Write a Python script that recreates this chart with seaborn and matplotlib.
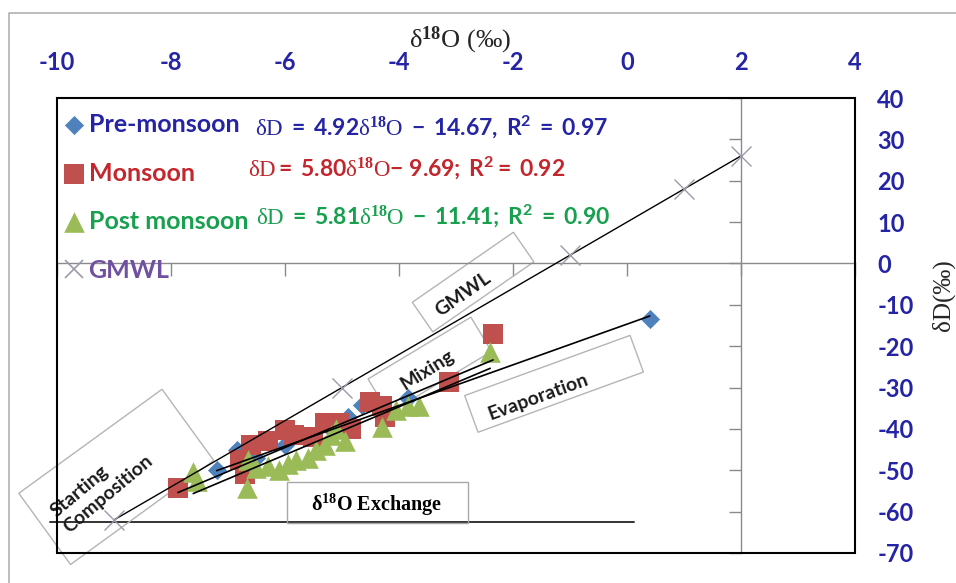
import numpy as np
import pandas as pd
import matplotlib
matplotlib.use("Agg")
import matplotlib.pyplot as plt
import matplotlib.transforms as mtransforms
from matplotlib.patches import Rectangle
from matplotlib.lines import Line2D
import seaborn as sns

# ---------------- data ----------------
pre_x = [0.40, -3.84, -4.65, -4.90, -5.20, -5.50, -6.00, -6.50, -6.84, -7.20]
pre_y = [-13.4, -32.5, -34.2, -37.1, -40.0, -42.0, -44.0, -47.0, -45.1, -50.0]

mon_x = [-7.88, -6.79, -6.70, -6.60, -6.30, -6.00, -5.85, -5.50, -5.30, -5.05,
         -4.85, -4.50, -4.30, -4.25, -3.12, -2.35]
mon_y = [-54.3, -47.5, -51.0, -44.0, -43.0, -40.3, -41.5, -42.0, -38.5, -38.5,
         -40.0, -33.5, -34.5, -37.0, -28.6, -17.0]

post_x = [-7.61, -7.54, -6.67, -6.65, -6.50, -6.30, -6.10, -5.95, -5.80, -5.60,
          -5.45, -5.30, -5.20, -5.10, -4.95, -4.30, -4.05, -3.85, -3.65, -2.40]
post_y = [-50.4, -52.5, -54.3, -47.5, -49.5, -49.0, -50.0, -48.5, -47.5, -47.0,
          -45.0, -44.0, -41.5, -40.0, -43.0, -39.5, -35.5, -34.5, -34.5, -21.4]

gmwl_x = [-9.0, -5.0, -1.0, 1.0, 2.0]
gmwl_y = [-62.0, -30.0, 2.0, 18.0, 26.0]

# trend-line equations shown on the chart
pre_slope, pre_int = 4.92, -14.67
mon_slope, mon_int = 5.80, -9.69
post_slope, post_int = 5.81, -11.41

exch_x = [-10.12, 0.12]
exch_y = [-62.5, -62.5]

series_names = ["Pre-monsoon", "Monsoon", "Post monsoon", "GMWL"]
equations = [
    r"$\mathrm{\delta D}\mathsf{\ =\ 4.92}\mathrm{\delta^{\mathbf{18}}O}\mathsf{\ -\ 14.67,\ R^{2}\ =\ 0.97}$",
    r"$\mathrm{\delta D}\mathsf{=\ 5.80}\mathrm{\delta^{\mathbf{18}}O}\mathsf{-\ 9.69;\ R^{2}=\ 0.92}$",
    r"$\mathrm{\delta D}\mathsf{\ =\ 5.81}\mathrm{\delta^{\mathbf{18}}O}\mathsf{\ -\ 11.41;\ R^{2}\ =\ 0.90}$",
]
x_ticks = [-10, -8, -6, -4, -2, 0, 2, 4]
x_tick_labels = ["-10", "-8", "-6", "-4", "-2", "0", "2", "4"]
y_ticks = [-70, -60, -50, -40, -30, -20, -10, 0, 10, 20, 30, 40]
y_tick_labels = ["-70", "-60", "-50", "-40", "-30", "-20", "-10", "0", "10", "20", "30", "40"]

# ---------------- style ----------------
sns.set_style("white")
plt.rcParams['font.family'] = ['Lato', 'DejaVu Sans']
plt.rcParams['axes.unicode_minus'] = False
plt.rcParams['mathtext.fontset'] = 'custom'
plt.rcParams['mathtext.rm'] = 'Liberation Serif'
plt.rcParams['mathtext.it'] = 'Liberation Serif:italic'
plt.rcParams['mathtext.bf'] = 'Liberation Serif:bold'
plt.rcParams['mathtext.sf'] = 'Lato:bold'

c_pre, c_mon, c_post, c_gm = '#4F81BD', '#C0504D', '#9BBB59', '#9A9AAA'
t_pre, t_mon, t_post, t_gm = '#2424A4', '#C3262C', '#17A04E', '#7050A0'
tick_blue = '#2424A4'

W, H = 956, 583
fig = plt.figure(figsize=(W / 100, H / 100), dpi=100)
ax = fig.add_axes([57 / W, 1 - 553 / H, (855 - 57) / W, (553 - 98) / H])
ax.set_xlim(-10, 4)
ax.set_ylim(-70, 40)

# scatter series
sns.scatterplot(x=pre_x, y=pre_y, marker='D', s=95, color=c_pre, edgecolor=c_pre,
                linewidth=0, ax=ax, label=series_names[0], zorder=3)
sns.scatterplot(x=mon_x, y=mon_y, marker='s', s=210, color=c_mon, edgecolor=c_mon,
                linewidth=0, ax=ax, label=series_names[1], zorder=3)
sns.scatterplot(x=post_x, y=post_y, marker='^', s=220, color=c_post, edgecolor=c_post,
                linewidth=0, ax=ax, label=series_names[2], zorder=3)

# GMWL line with cross markers
sns.lineplot(x=gmwl_x, y=gmwl_y, color='black', lw=1.0, marker='x', markersize=14,
             markeredgecolor=c_gm, markeredgewidth=1.0, ax=ax, legend=False, zorder=4)

# trend lines
for xs, m, b in [(pre_x, pre_slope, pre_int), (mon_x, mon_slope, mon_int),
                 (post_x, post_slope, post_int)]:
    xr = np.array([min(xs), max(xs)])
    ax.plot(xr, m * xr + b, color='black', lw=1.2, zorder=4)

# exchange line
ax.plot(exch_x, exch_y, color='#333333', lw=1.4, clip_on=False, zorder=2)

# axes crossing at x=2, y=0
for s in ['top', 'right']:
    ax.spines[s].set_visible(False)
ax.spines['bottom'].set_position(('data', 0))
ax.spines['left'].set_position(('data', 2))
for s in ['bottom', 'left']:
    ax.spines[s].set_color('#8a8a8a')
    ax.spines[s].set_linewidth(1.0)
ax.set_xticks(x_ticks)
ax.set_yticks(y_ticks)
ax.tick_params(axis='both', direction='out', length=9, width=1, color='#8a8a8a',
               labelbottom=False, labelleft=False, bottom=True, left=True)
ax.grid(False)
ax.add_patch(Rectangle((0, 0), 1, 1, transform=ax.transAxes, fill=False,
                       ec='black', lw=1.5, clip_on=False, zorder=6))

# tick labels on top and right
secx = ax.secondary_xaxis('top')
secx.set_xticks(x_ticks, labels=x_tick_labels)
secx.tick_params(length=0, pad=17, labelsize=17, labelcolor=tick_blue)
secy = ax.secondary_yaxis('right')
secy.set_yticks(y_ticks, labels=y_tick_labels)
secy.tick_params(length=0, pad=16, labelsize=17, labelcolor=tick_blue)
for sa in (secx, secy):
    for sp in sa.spines.values():
        sp.set_visible(False)
for t in secx.get_xticklabels() + secy.get_yticklabels():
    t.set_fontweight('bold')

# axis titles
fig.text(460 / W, 1 - 40 / H, r"δ$^{\mathbf{18}}$O (‰)", ha='center', va='center',
         fontsize=19, family=['Liberation Serif', 'DejaVu Serif'])
fig.text(943 / W, 1 - 295 / H, "δD(‰)", ha='center', va='center', rotation=90,
         fontsize=18, family=['Liberation Serif', 'DejaVu Serif'])

# legend
handles, labels = ax.get_legend_handles_labels()
handles.append(Line2D([], [], marker='x', ls='none', color=c_gm, markersize=13, mew=1.2))
labels.append(series_names[3])
leg = ax.legend(handles, labels, loc='upper left', bbox_to_anchor=(0.006, 0.967),
                frameon=False, handletextpad=0.12, handlelength=0.95, labelspacing=1.02,
                borderaxespad=0, borderpad=0, prop={'size': 18, 'weight': 'bold'})
for t, c in zip(leg.get_texts(), [t_pre, t_mon, t_post, t_gm]):
    t.set_color(c)

# equations
for eq, (px, py), c in zip(equations, [(255, 127), (248, 168), (256, 216)],
                           [t_pre, t_mon, t_post]):
    ax.text((px - 57) / 798, 1 - (py - 98) / 455, eq, transform=ax.transAxes,
            ha='left', va='center', fontsize=16.5, color=c)

# annotation boxes
def rot_box(cx, cy, w, h, ang, ec='#b5b5b5'):
    tr = (mtransforms.Affine2D().rotate_deg(ang).scale(1 / 100.) + fig.dpi_scale_trans
          + mtransforms.ScaledTranslation(cx, cy, ax.transData))
    ax.add_patch(Rectangle((-w / 2, -h / 2), w, h, transform=tr, fill=False,
                           ec=ec, lw=1.0, clip_on=False, zorder=2))

rot_box(-2.70, -4.5, 123, 36, 34.7)
ax.text(-2.88, -7.4, "GMWL", rotation=35, ha='center', va='center', fontsize=14,
        weight='bold', color='#1a1a1a', zorder=5)
rot_box(-3.46, -24.6, 120, 40, 31)
ax.text(-3.51, -25.8, "Mixing", rotation=32, ha='center', va='center', fontsize=14,
        weight='bold', color='#1a1a1a', zorder=5)
rot_box(-1.28, -29.1, 176, 39, 20)
ax.text(-1.56, -32.3, "Evaporation", rotation=20, ha='center', va='center', fontsize=14,
        weight='bold', color='#1a1a1a', zorder=5)
rot_box(-8.96, -51.6, 177, 88, 36)
ax.text(-9.22, -53.8, "Starting\nComposition", rotation=40, ha='center', va='center',
        multialignment='left', fontsize=14, weight='bold', color='#1a1a1a',
        linespacing=1.2, zorder=5)
rot_box(-4.38, -57.8, 181, 41, 0, ec='#a8a8a8')
ax.text(-4.40, -58.4, r"δ$^{\mathbf{18}}$O Exchange", ha='center', va='center',
        fontsize=14.5, weight='bold', family=['Liberation Serif', 'DejaVu Serif'],
        color='black', zorder=5)

# outer chart border
fig.add_artist(Line2D([9 / W, 9 / W, 1], [0, 1 - 13 / H, 1 - 13 / H],
                      transform=fig.transFigure, color='#b0b0b0', lw=1.2))

fig.savefig("out.png", dpi=100)
